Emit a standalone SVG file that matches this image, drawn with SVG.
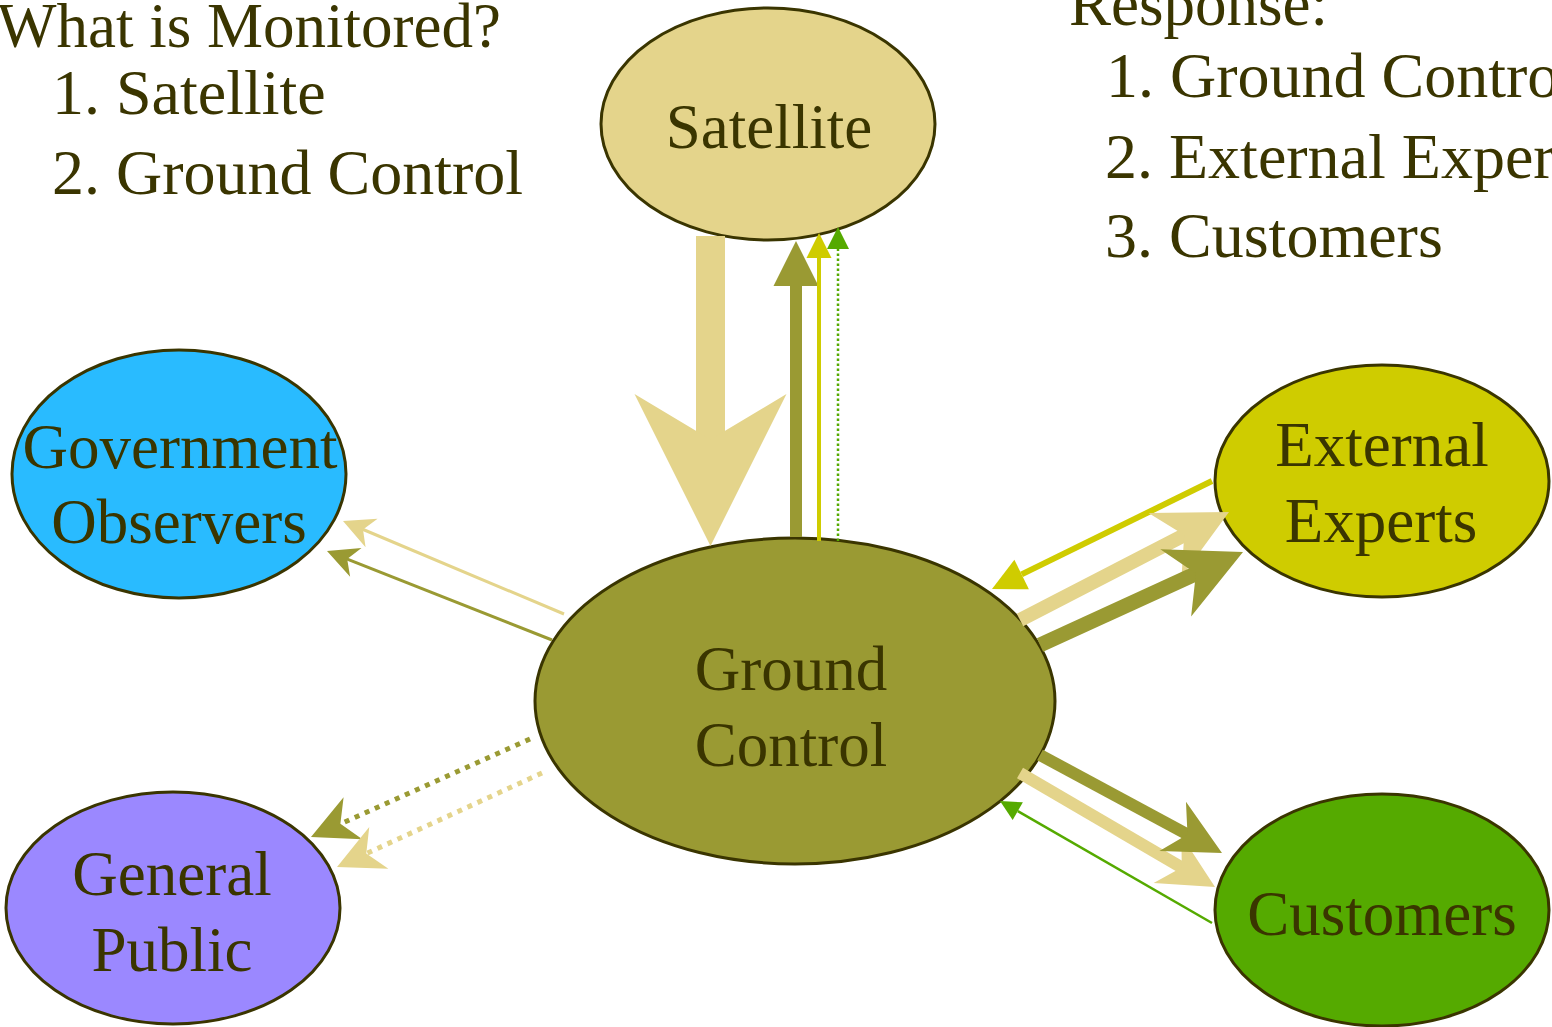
<svg xmlns="http://www.w3.org/2000/svg" xmlns:xlink="http://www.w3.org/1999/xlink" width="1552" height="1027" viewBox="0 0 1552 1027">
<style>
  text { font-family: "Liberation Serif", "Times New Roman", serif; font-size: 63px; fill: #3a3500; }
  .item { font-size: 64px; }
  .lbl { text-anchor: middle; }
  .node { stroke: #3a3500; stroke-width: 3; }
  .tan { stroke: #e4d48b; fill: none; }
  .olive { stroke: #9a9a33; fill: none; }
  .yel { stroke: #cfcc00; fill: none; }
  .grn { stroke: #55aa00; fill: none; }
  .ftan { fill: #e4d48b; }
  .folive { fill: #9a9a33; }
  .fyel { fill: #cfcc00; }
  .fgrn { fill: #55aa00; }
</style>
<defs>
  <path id="hn" d="M0,0 L-1,-0.5 L-0.7,0 L-1,0.5 Z"/>
  <path id="ht" d="M0,0 L-1,-0.5 L-1,0.5 Z"/>
</defs>
<rect width="1552" height="1027" fill="#ffffff"/>

<g id="legend-left">
  <text x="-3" y="47">What is Monitored?</text>
  <text class="item" x="52" y="114">1. Satellite</text>
  <text class="item" x="52" y="194">2. Ground Control</text>
</g>
<g id="legend-right">
  <text x="1069" y="25">Response:</text>
  <text class="item" x="1106" y="97">1. Ground Control</text>
  <text class="item" x="1105" y="178">2. External Experts</text>
  <text class="item" x="1105" y="257">3. Customers</text>
</g>

<g id="satellite">
  <ellipse class="node" cx="768" cy="124" rx="167" ry="116" fill="#e4d48b"/>
  <text class="lbl" x="769" y="148">Satellite</text>
</g>
<g id="government-observers">
  <ellipse class="node" cx="179" cy="474" rx="167" ry="124" fill="#29bbff"/>
  <text class="lbl" x="180" y="468">Government</text>
  <text class="lbl" x="179" y="543">Observers</text>
</g>
<g id="external-experts">
  <ellipse class="node" cx="1382" cy="481" rx="167" ry="116" fill="#cfcc00"/>
  <text class="lbl" x="1382" y="466">External</text>
  <text class="lbl" x="1381" y="542">Experts</text>
</g>
<g id="ground-control">
  <ellipse class="node" cx="795" cy="701" rx="260" ry="163" fill="#9a9a33"/>
  <text class="lbl" x="791" y="690">Ground</text>
  <text class="lbl" x="791" y="766">Control</text>
</g>
<g id="general-public">
  <ellipse class="node" cx="173" cy="908" rx="167" ry="116" fill="#9b88ff"/>
  <text class="lbl" x="172" y="895">General</text>
  <text class="lbl" x="172" y="971">Public</text>
</g>
<g id="customers">
  <ellipse class="node" cx="1382" cy="910" rx="167" ry="116" fill="#55aa00"/>
  <text class="lbl" x="1382" y="935">Customers</text>
</g>

<g id="connectors">
  <!-- Satellite -> Ground Control (big) -->
  <line class="tan" x1="710.5" y1="236" x2="710.5" y2="441" stroke-width="29"/>
  <use xlink:href="#hn" href="#hn" class="ftan" transform="translate(710.5,546) rotate(90) scale(152)"/>
  <!-- Ground Control -> Satellite -->
  <line class="olive" x1="796" y1="537" x2="796" y2="285" stroke-width="12"/>
  <use xlink:href="#ht" href="#ht" class="folive" transform="translate(796,241) rotate(-90) scale(45)"/>
  <line class="yel" x1="819" y1="541" x2="819" y2="257" stroke-width="4"/>
  <use xlink:href="#ht" href="#ht" class="fyel" transform="translate(819,233) rotate(-90) scale(25)"/>
  <line class="grn" x1="838" y1="541" x2="838" y2="248" stroke-width="2.5" stroke-dasharray="2.5,2.5"/>
  <use xlink:href="#ht" href="#ht" class="fgrn" transform="translate(838,227) rotate(-90) scale(22)"/>

  <!-- External Experts -> Ground Control -->
  <line class="yel" x1="1212" y1="481" x2="1021.6" y2="574.4" stroke-width="6"/>
  <use xlink:href="#ht" href="#ht" class="fyel" transform="translate(992,589) rotate(153.9) scale(33)"/>
  <!-- Ground Control -> External Experts -->
  <line class="tan" x1="1020" y1="620" x2="1186" y2="534.2" stroke-width="14"/>
  <use xlink:href="#hn" href="#hn" class="ftan" transform="translate(1229,512) rotate(-27.3) scale(72)"/>
  <line class="olive" x1="1040" y1="645" x2="1197" y2="573.1" stroke-width="15"/>
  <use xlink:href="#hn" href="#hn" class="folive" transform="translate(1243,552) rotate(-24.6) scale(74)"/>

  <!-- Ground Control -> Customers -->
  <line class="tan" x1="1020" y1="773" x2="1183" y2="868.3" stroke-width="12"/>
  <use xlink:href="#hn" href="#hn" class="ftan" transform="translate(1215,887) rotate(30.3) scale(55)"/>
  <line class="olive" x1="1040" y1="755" x2="1188.5" y2="835" stroke-width="12"/>
  <use xlink:href="#hn" href="#hn" class="folive" transform="translate(1222,853) rotate(28.3) scale(56)"/>
  <!-- Customers -> Ground Control -->
  <line class="grn" x1="1212" y1="923" x2="1017.8" y2="811.2" stroke-width="2.5"/>
  <use xlink:href="#ht" href="#ht" class="fgrn" transform="translate(1000,801) rotate(-150.1) scale(20.5)"/>

  <!-- Ground Control -> Government Observers -->
  <line class="tan" x1="564" y1="614" x2="362" y2="529" stroke-width="3"/>
  <use xlink:href="#hn" href="#hn" class="ftan" transform="translate(343,521) rotate(-157.2) scale(31)"/>
  <line class="olive" x1="552" y1="640" x2="346" y2="558.6" stroke-width="3"/>
  <use xlink:href="#hn" href="#hn" class="folive" transform="translate(327,551) rotate(-158.4) scale(31)"/>

  <!-- Ground Control -> General Public (dotted) -->
  <line class="olive" x1="530" y1="739" x2="340.4" y2="823.9" stroke-width="5" stroke-dasharray="5,6"/>
  <use xlink:href="#hn" href="#hn" class="folive" transform="translate(311,837) rotate(155.9) scale(46)"/>
  <line class="tan" x1="542" y1="773" x2="366.3" y2="853.6" stroke-width="5" stroke-dasharray="5,6"/>
  <use xlink:href="#hn" href="#hn" class="ftan" transform="translate(337,867) rotate(155.4) scale(46)"/>
</g>
</svg>
